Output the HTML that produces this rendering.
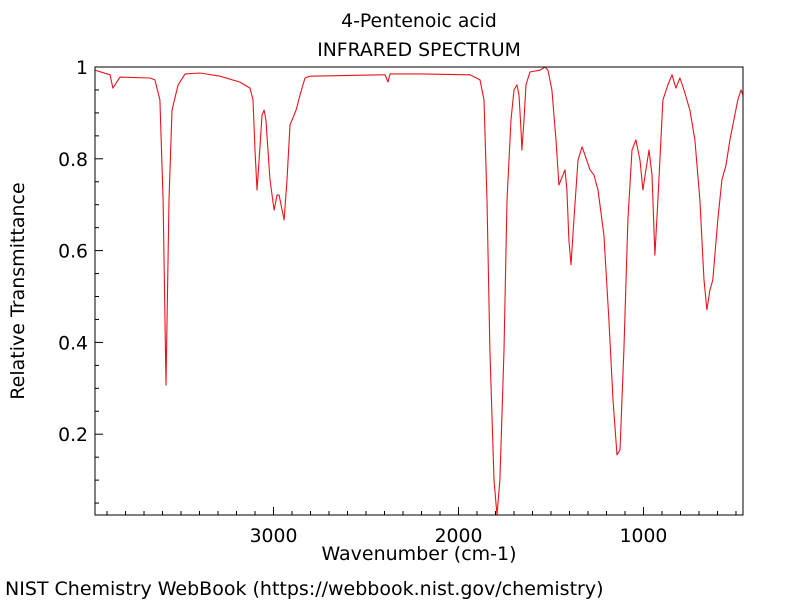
<!DOCTYPE html>
<html><head><meta charset="utf-8"><style>
body{margin:0;background:#fff;font-family:"DejaVu Sans","Liberation Sans",sans-serif}
</style></head><body>
<svg id="chart" width="800" height="600" xmlns="http://www.w3.org/2000/svg" font-family="DejaVu Sans, Liberation Sans, sans-serif">
<text x="419" y="27" font-size="18.8" text-anchor="middle">4-Pentenoic acid</text>
<text x="419" y="56" font-size="18.8" text-anchor="middle">INFRARED SPECTRUM</text>
<text x="419" y="560" font-size="19" text-anchor="middle">Wavenumber (cm-1)</text>
<text transform="translate(24,291) rotate(-90)" font-size="19" text-anchor="middle">Relative Transmittance</text>
<text x="5" y="595" font-size="19">NIST Chemistry WebBook (https://webbook.nist.gov/chemistry)</text>
<g id="axes"></g>
</svg>
<script>
const wavenumbers=[3965,3884,3868,3830,3668,3641,3614,3597,3581,3565,3549,3516,3478,3397,3289,3181,3127,3111,3100,3089,3078,3062,3051,3041,3019,2997,2981,2970,2959,2943,2927,2911,2895,2878,2857,2830,2803,2397,2381,2370,2208,1938,1884,1862,1846,1830,1808,1792,1776,1754,1738,1716,1700,1684,1673,1662,1657,1646,1635,1614,1560,1532,1516,1495,1473,1457,1435,1424,1414,1403,1392,1376,1354,1332,1316,1289,1268,1246,1214,1187,1165,1143,1127,1106,1084,1062,1041,1019,1003,987,970,954,938,922,895,868,846,825,803,781,749,722,695,673,657,641,625,598,576,554,533,511,490,473,462];
const transmittance=[0.993,0.983,0.954,0.978,0.976,0.972,0.928,0.710,0.307,0.710,0.906,0.961,0.985,0.987,0.980,0.967,0.954,0.928,0.819,0.732,0.797,0.895,0.906,0.885,0.754,0.688,0.721,0.721,0.699,0.667,0.754,0.874,0.889,0.906,0.939,0.976,0.980,0.983,0.967,0.985,0.985,0.983,0.972,0.928,0.710,0.383,0.100,0.024,0.100,0.383,0.710,0.885,0.950,0.961,0.939,0.863,0.819,0.885,0.961,0.989,0.993,1.0,0.993,0.950,0.841,0.743,0.765,0.776,0.732,0.623,0.569,0.667,0.797,0.826,0.808,0.776,0.765,0.732,0.634,0.449,0.275,0.155,0.166,0.383,0.667,0.819,0.841,0.797,0.732,0.776,0.819,0.765,0.590,0.710,0.928,0.961,0.983,0.954,0.976,0.950,0.906,0.841,0.710,0.536,0.471,0.514,0.536,0.667,0.754,0.786,0.841,0.885,0.928,0.950,0.939];
const xTicks=[3000,2000,1000];
const yTicks=[0.2,0.4,0.6,0.8,1];
const X0=95,X1=743,Y0=67,Y1=515,WMAX=3965,WMIN=462,TMAX=1,TMIN=0.024;
const sx=w=>X0+(WMAX-w)/(WMAX-WMIN)*(X1-X0);
const sy=t=>Y0+(TMAX-t)/(TMAX-TMIN)*(Y1-Y0);
const NS='http://www.w3.org/2000/svg';
const g=document.getElementById('axes');
function mk(tag,attrs){const e=document.createElementNS(NS,tag);for(const k in attrs)e.setAttribute(k,attrs[k]);g.appendChild(e);return e;}
for(let w=3900;w>=500;w-=100){
 const major=w%1000===0;
 const t=mk('line',{x1:sx(w),x2:sx(w),y1:Y1,y2:Y1-(major?8:4),stroke:'#000','stroke-width':1});
 
 
}
xTicks.forEach(w=>{
 const t=mk('text',{x:sx(w),y:Y1+27,'font-size':18.8,'text-anchor':'middle'});
 t.textContent=w;
 
 
});
for(let i=1;i<=20;i++){
 const v=i*0.05; if(v<TMIN)continue;
 const major=i%4===0;
 const t=mk('line',{x1:X0,x2:X0+(major?8:4),y1:sy(v),y2:sy(v),stroke:'#000','stroke-width':1});
 
 
}
yTicks.forEach(v=>{
 const t=mk('text',{x:X0-7,y:sy(v)+7,'font-size':18.8,'text-anchor':'end'});
 t.textContent=(v===1?'1':v.toFixed(1));
 
 
});
const d=wavenumbers.map((w,i)=>(i?'L':'M')+sx(w).toFixed(1)+','+sy(transmittance[i]).toFixed(1)).join(' ');
const cp=mk('clipPath',{id:'clip'});
const r=document.createElementNS(NS,'rect');r.setAttribute('x',X0);r.setAttribute('y',Y0);r.setAttribute('width',X1-X0);r.setAttribute('height',Y1-Y0);cp.appendChild(r);
const line=mk('path',{d:d,fill:'none',stroke:'#e8141c','stroke-width':1.1,'stroke-linejoin':'round','clip-path':'url(#clip)'});


const frame=mk('rect',{x:X0,y:Y0,width:X1-X0,height:Y1-Y0,fill:'none',stroke:'#000','stroke-width':1});


</script>
</body></html>
